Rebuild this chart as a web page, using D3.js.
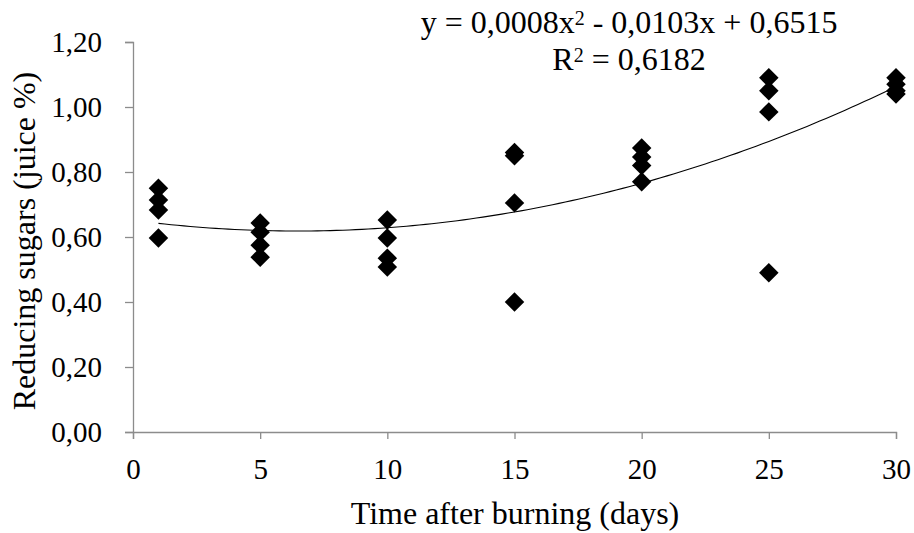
<!DOCTYPE html>
<html>
<head>
<meta charset="utf-8">
<script src="https://cdn.jsdelivr.net/npm/d3@7"></script>
<style>
    body { margin: 0; background: #fff; }
    text { font-family: "Liberation Serif", "Times New Roman", serif; }
</style>
</head>
<body>
<div id="chart"></div>
<script>

// data
const days = [1, 5, 10, 15, 20, 25, 30];
const sugars = [
    [0.75, 0.714, 0.683, 0.597],
    [0.643, 0.615, 0.575, 0.538],
    [0.652, 0.597, 0.535, 0.508],
    [0.86, 0.85, 0.705, 0.40],
    [0.874, 0.846, 0.82, 0.77],
    [1.09, 1.05, 0.985, 0.49],
    [1.09, 1.07, 1.05, 1.04],
];
const xTicks = [0, 5, 10, 15, 20, 25, 30];
const yTicks = [0, 0.2, 0.4, 0.6, 0.8, 1.0, 1.2];
const trendCoef = [0.6515, -0.0103, 0.0008];   // c0 + c1 x + c2 x^2

function drawChart() {

    // 1. Data points
    const points = [];
    days.forEach((d, i) => sugars[i].forEach(v => points.push({ day: d, value: v })));

    // 2. Dimensions
    const dimensions = {
        width: 914,
        height: 533,
        margin: { top: 42, right: 18, bottom: 101, left: 133 },
    };
    dimensions.boundedWidth = dimensions.width - dimensions.margin.left - dimensions.margin.right;
    dimensions.boundedHeight = dimensions.height - dimensions.margin.top - dimensions.margin.bottom;

    // 3. Canvas
    const chart = d3.select("#chart")
        .append("svg")
        .attr("width", dimensions.width)
        .attr("height", dimensions.height);

    const bounds = chart.append("g")
        .attr("transform", `translate(${dimensions.margin.left}, ${dimensions.margin.top})`);

    // 4. Scales
    const xScale = d3.scaleLinear()
        .domain([0, 30])
        .range([0, 763]);

    const yScale = d3.scaleLinear()
        .domain([0, 1.2])
        .range([dimensions.boundedHeight, 0]);

    const comma = d3.formatLocale({ decimal: ",", thousands: ".", grouping: [3], currency: ["", ""] });

    // 5. Axes
    const axisColor = "#8c8c8c";

    const yAxis = bounds.append("g")
        .call(d3.axisLeft(yScale).tickValues(yTicks).tickSize(8).tickPadding(23)
            .tickFormat(comma.format(".2f")));

    const xAxis = bounds.append("g")
        .attr("transform", `translate(0, ${dimensions.boundedHeight})`)
        .call(d3.axisBottom(xScale).tickValues(xTicks).tickSize(7).tickPadding(19));

    [xAxis, yAxis].forEach(ax => {
        ax.selectAll("path, line").attr("stroke", axisColor).attr("stroke-width", 1.3);
        ax.selectAll("text")
            .attr("fill", "#000")
            .style("font-family", "Liberation Serif")
            .style("font-size", "29px");
    });

    // 6. Trend line
    const trend = x => trendCoef[0] + trendCoef[1] * x + trendCoef[2] * x * x;
    const trendX = d3.range(1, 30.01, 0.25);

    bounds.append("path")
        .datum(trendX)
        .attr("fill", "none")
        .attr("stroke", "#000")
        .attr("stroke-width", 1.1)
        .attr("d", d3.line().x(d => xScale(d)).y(d => yScale(trend(d))));

    // 7. Markers
    const diamond = d3.symbol().type(d3.symbolSquare).size(190);

    bounds.selectAll("path.marker")
        .data(points)
        .join("path")
        .attr("class", "marker")
        .attr("d", diamond)
        .attr("fill", "#000")
        .attr("transform", d => `translate(${xScale(d.day)}, ${yScale(d.value)}) rotate(45)`);

    // 8. Labels
    chart.append("text")
        .attr("x", 515)
        .attr("y", 524)
        .attr("text-anchor", "middle")
        .style("font-size", "32px")
        .text("Time after burning (days)");

    chart.append("text")
        .attr("transform", "translate(35, 241) rotate(-90)")
        .attr("text-anchor", "middle")
        .style("font-size", "32px")
        .text("Reducing sugars (juice %)");

    const eq = chart.append("text")
        .attr("x", 629)
        .attr("y", 33)
        .attr("text-anchor", "middle")
        .style("font-size", "32px");
    eq.append("tspan").text("y = 0,0008x");
    eq.append("tspan").attr("dy", -8).style("font-size", "20px").text("2");
    eq.append("tspan").attr("dy", 8).text(" - 0,0103x + 0,6515");

    const r2 = chart.append("text")
        .attr("x", 629)
        .attr("y", 70)
        .attr("text-anchor", "middle")
        .style("font-size", "32px");
    r2.append("tspan").text("R");
    r2.append("tspan").attr("dy", -8).style("font-size", "20px").text("2");
    r2.append("tspan").attr("dy", 8).text(" = 0,6182");
}

drawChart();
</script>
</body>
</html>
